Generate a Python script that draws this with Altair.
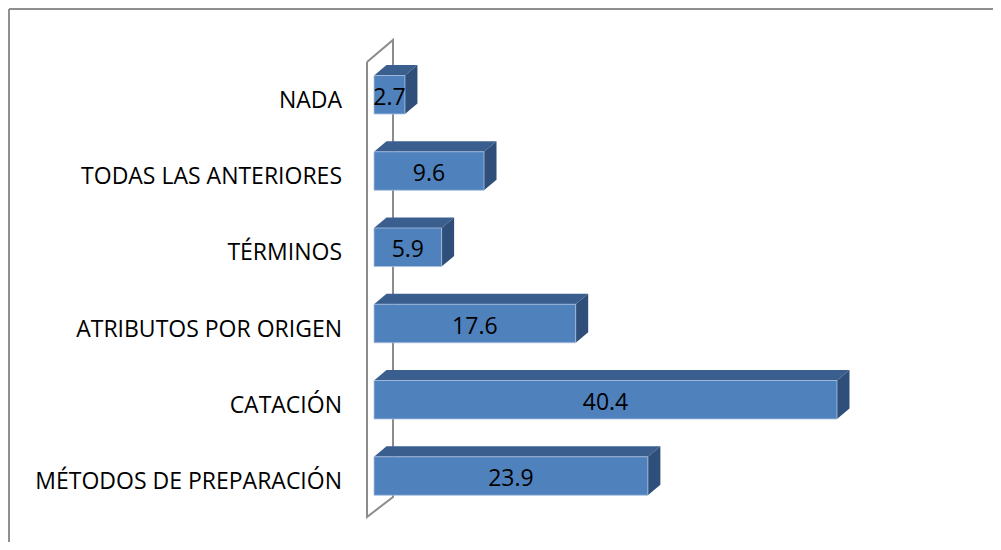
import altair as alt
import pandas as pd

categories = ["NADA", "TODAS LAS ANTERIORES", "TÉRMINOS", "ATRIBUTOS POR ORIGEN",
              "CATACIÓN", "MÉTODOS DE PREPARACIÓN"]
values = [2.7, 9.6, 5.9, 17.6, 40.4, 23.9]

# layout (pixels, chart coordinates)
W, H = 985, 534
K = 11.46          # px per unit
X0 = 366           # px of value 0
SLOT = 76.25       # px between categories
Y0 = 86.75         # px of first category centre
HALF = 19.25 / SLOT
DDX = 12.5 / K
DDY = 10.5 / SLOT

xdom = [-X0 / K, (W - X0) / K]
ydom = [-Y0 / SLOT, -Y0 / SLOT + H / SLOT]

def px2x(p):
    return (p - X0) / K

def px2y(p):
    return ydom[0] + p / SLOT

xs = alt.Scale(domain=xdom, nice=False, zero=False)
ys = alt.Scale(domain=ydom, nice=False, zero=False, reverse=True)

front_rows, top_rows, side_rows = [], [], []
for i, (c, v) in enumerate(zip(categories, values)):
    t, b = i - HALF, i + HALF
    front_rows.append(dict(cat=c, x=0, x2=v, y=t, y2=b, val=f"{v:.1f}", xm=v / 2, ym=i))
    for xx, ya, yb in [(0, t, t), (DDX, t - DDY, t), (v, t - DDY, t),
                       (v + DDX, t - DDY, t - DDY)]:
        top_rows.append(dict(cat=c, x=xx, y=ya, y2=yb))
    for xx, ya, yb in [(v, t, b), (v + DDX, t - DDY, b - DDY)]:
        side_rows.append(dict(cat=c, x=xx, y=ya, y2=yb))

front = pd.DataFrame(front_rows)
top = pd.DataFrame(top_rows)
side = pd.DataFrame(side_rows)

wall = pd.DataFrame({
    "o": [0, 1, 2, 3, 4],
    "x": [px2x(359), px2x(359), px2x(385), px2x(385), px2x(359)],
    "y": [px2y(54), px2y(509), px2y(489), px2y(32), px2y(54)],
})

FONT = "Open Sans"
FS = 23

wall_l = alt.Chart(wall).mark_line(color="#8C8C8C", strokeWidth=2).encode(
    x=alt.X("x:Q", scale=xs, axis=None),
    y=alt.Y("y:Q", scale=ys, axis=None),
    order="o:O",
)

top_l = alt.Chart(top).mark_area(color="#3A5F8F").encode(
    x=alt.X("x:Q", scale=xs, axis=None),
    y=alt.Y("y:Q", scale=ys, axis=None, stack=None),
    y2=alt.Y2("y2:Q"),
    detail="cat:N",
)

side_l = alt.Chart(side).mark_area(color="#2F4E7A").encode(
    x=alt.X("x:Q", scale=xs, axis=None),
    y=alt.Y("y:Q", scale=ys, axis=None, stack=None),
    y2=alt.Y2("y2:Q"),
    detail="cat:N",
)

front_l = alt.Chart(front).mark_rect(color="#4F81BD", stroke="#A9C0DE", strokeWidth=0.8).encode(
    x=alt.X("x:Q", scale=xs, axis=None),
    x2="x2:Q",
    y=alt.Y("y:Q", scale=ys, axis=None),
    y2="y2:Q",
)

vals_l = alt.Chart(front).mark_text(font=FONT, fontSize=FS, color="black",
                                    align="center", baseline="middle", dy=3).encode(
    x=alt.X("xm:Q", scale=xs, axis=None),
    y=alt.Y("ym:Q", scale=ys, axis=None),
    text="val:N",
)

cats_l = alt.Chart(front).mark_text(font=FONT, fontSize=FS, color="black",
                                    align="right", baseline="middle", dy=6).encode(
    x=alt.value(334),
    y=alt.Y("ym:Q", scale=ys, axis=None),
    text="cat:N",
)

border_top = alt.Chart(front).mark_rule(color="#8F8F8F", strokeWidth=2).encode(
    x=alt.value(1), x2=alt.value(W), y=alt.value(1))
border_left = alt.Chart(front).mark_rule(color="#8F8F8F", strokeWidth=2).encode(
    x=alt.value(1), y=alt.value(1), y2=alt.value(H))

chart = alt.layer(wall_l, top_l, side_l, front_l, vals_l, cats_l, border_top, border_left).properties(
    width=W, height=H, autosize=alt.AutoSizeParams(type="none"), padding=0,
).configure_view(stroke=None)

chart.save("out.html", embed_options={"renderer": "svg", "actions": False})
